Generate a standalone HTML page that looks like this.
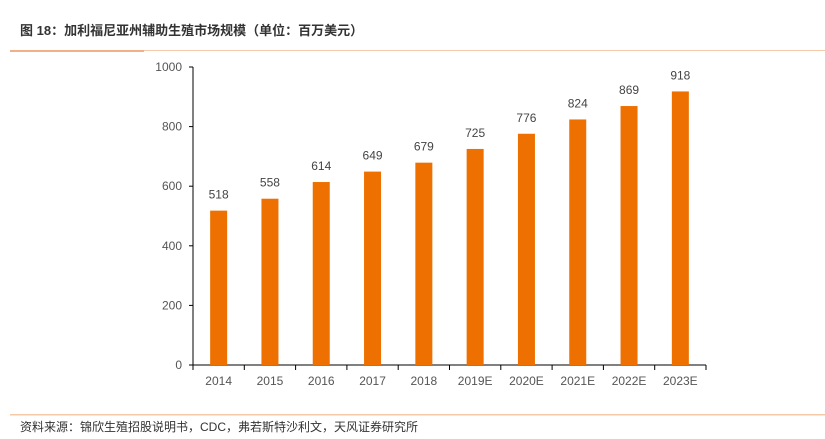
<!DOCTYPE html>
<html><head><meta charset="utf-8"><style>
body{margin:0;background:#fff;width:825px;height:439px;overflow:hidden;font-family:"Liberation Sans","Noto Sans CJK SC",sans-serif}
</style></head><body>
<svg width="825" height="439" style="position:absolute;left:0;top:0">
<text x="20" y="35" font-size="13" font-weight="bold" fill="#333" font-family="Liberation Sans, Noto Sans CJK SC, sans-serif">图 18：加利福尼亚州辅助生殖市场规模（单位：百万美元）</text>
<rect x="10" y="50" width="815" height="1" fill="#f6c9a8"/>
<rect x="10" y="50" width="134" height="2" fill="#f2b088"/>
<g id="plot"></g>
<rect x="10" y="414" width="815" height="1.5" fill="#f6c9a8"/>
<text x="20" y="431" font-size="12" fill="#333" font-family="Liberation Sans, Noto Sans CJK SC, sans-serif">资料来源：锦欣生殖招股说明书，CDC，弗若斯特沙利文，天风证券研究所</text>
</svg>
<script>
const categories=["2014","2015","2016","2017","2018","2019E","2020E","2021E","2022E","2023E"];
const values=[518,558,614,649,679,725,776,824,869,918];
const yTicks=[0,200,400,600,800,1000];
const NS="http://www.w3.org/2000/svg";
const g=document.getElementById("plot");
const x0=193,x1=706,y0=365,y1=67,yMax=1000;
const band=(x1-x0)/categories.length;
const ys=v=>y0-(v/yMax)*(y0-y1);
const xc=i=>x0+band*(i+0.5);
function mk(t,a){const e=document.createElementNS(NS,t);for(const k in a)e.setAttribute(k,a[k]);g.appendChild(e);return e;}
let e;
e=mk("line",{x1:x0,y1:y1,x2:x0,y2:y0,stroke:"#000","stroke-width":1});


e=mk("line",{x1:x0,y1:y0,x2:x1,y2:y0,stroke:"#000","stroke-width":1});


yTicks.forEach(t=>{
 const y=ys(t);
 let l=mk("line",{x1:x0-4,y1:y,x2:x0,y2:y,stroke:"#000"});
 
 
 let tx=mk("text",{x:x0-11,y:y+4,"font-size":12,fill:"#555","text-anchor":"end"});
 tx.textContent=t;
 
 
});
for(let i=0;i<=categories.length;i++){
 const x=x0+band*i;
 let l=mk("line",{x1:x,y1:y0,x2:x,y2:y0+5,stroke:"#000"});
 
 
}
categories.forEach((c,i)=>{
 const bw=17,x=xc(i);
 let r=mk("rect",{x:x-bw/2,y:ys(values[i]),width:bw,height:y0-ys(values[i]),fill:"#ee7000"});
 
 
 let v=mk("text",{x:x,y:ys(values[i])-12,"font-size":12,fill:"#444","text-anchor":"middle"});
 v.textContent=values[i];
 
 
 let t=mk("text",{x:x,y:y0+20,"font-size":12,fill:"#555","text-anchor":"middle"});
 t.textContent=c;
 
 
});
</script>
</body></html>
